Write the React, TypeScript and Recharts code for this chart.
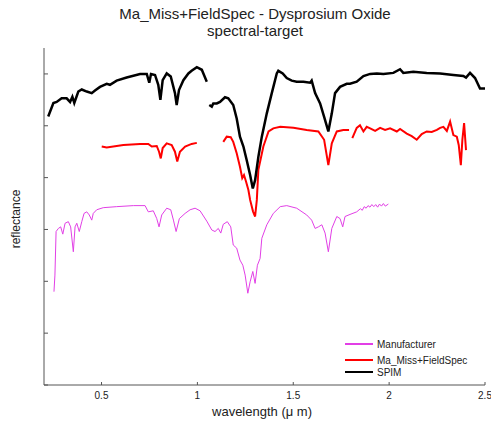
import * as React from 'react'
import { LineChart, Line, XAxis, YAxis } from 'recharts'

// [wavelength (µm), reflectance]
const SPIM_A: [number, number][] = [
  [0.222, 0.518], [0.249, 0.544], [0.266, 0.546], [0.292, 0.553], [0.318, 0.553],
  [0.336, 0.546], [0.348, 0.556], [0.358, 0.544], [0.379, 0.566], [0.397, 0.570],
  [0.423, 0.566], [0.449, 0.563], [0.466, 0.568], [0.492, 0.575], [0.527, 0.581],
  [0.544, 0.579], [0.579, 0.587], [0.631, 0.593], [0.701, 0.600], [0.736, 0.600],
  [0.749, 0.583], [0.758, 0.600], [0.779, 0.598], [0.796, 0.579], [0.807, 0.550],
  [0.819, 0.588], [0.840, 0.601], [0.861, 0.595], [0.883, 0.563], [0.892, 0.540],
  [0.904, 0.569], [0.927, 0.588], [0.953, 0.601], [0.970, 0.606], [0.997, 0.613],
  [1.023, 0.608], [1.049, 0.585],
]
const SPIM_B: [number, number][] = [
  [1.062, 0.540], [1.075, 0.537], [1.083, 0.543], [1.101, 0.543], [1.118, 0.546],
  [1.144, 0.555], [1.161, 0.553], [1.187, 0.540], [1.205, 0.514], [1.222, 0.479],
  [1.240, 0.460], [1.257, 0.434], [1.275, 0.405], [1.289, 0.379], [1.301, 0.395],
  [1.318, 0.440], [1.336, 0.479], [1.362, 0.524], [1.388, 0.563], [1.414, 0.601],
  [1.422, 0.606], [1.445, 0.601], [1.466, 0.592], [1.492, 0.587], [1.518, 0.585],
  [1.553, 0.585], [1.588, 0.583], [1.596, 0.587], [1.614, 0.563], [1.640, 0.543],
  [1.661, 0.517], [1.683, 0.489], [1.701, 0.524], [1.718, 0.563], [1.744, 0.575],
  [1.779, 0.581], [1.796, 0.581], [1.831, 0.585], [1.866, 0.596], [1.901, 0.600],
  [1.936, 0.601], [1.970, 0.600], [2.022, 0.602], [2.057, 0.609], [2.074, 0.602],
  [2.126, 0.604], [2.196, 0.602], [2.266, 0.601], [2.335, 0.598], [2.387, 0.596],
  [2.401, 0.593], [2.422, 0.602], [2.448, 0.592], [2.474, 0.572], [2.500, 0.572],
]

const FIELD_A: [number, number][] = [
  [0.501, 0.460], [0.527, 0.458], [0.614, 0.463], [0.701, 0.465], [0.744, 0.465],
  [0.762, 0.460], [0.788, 0.461], [0.800, 0.450], [0.809, 0.437], [0.819, 0.457],
  [0.840, 0.466], [0.866, 0.463], [0.883, 0.450], [0.895, 0.431], [0.909, 0.450],
  [0.936, 0.460], [0.970, 0.465], [0.997, 0.467],
]
const FIELD_B: [number, number][] = [
  [1.135, 0.469], [1.153, 0.479], [1.174, 0.478], [1.187, 0.469], [1.205, 0.447],
  [1.222, 0.421], [1.234, 0.399], [1.243, 0.405], [1.254, 0.392], [1.266, 0.376],
  [1.275, 0.357], [1.290, 0.335], [1.301, 0.325], [1.310, 0.357], [1.318, 0.415],
  [1.344, 0.460], [1.371, 0.489], [1.396, 0.495], [1.432, 0.498], [1.501, 0.496],
  [1.570, 0.492], [1.631, 0.489], [1.661, 0.473], [1.683, 0.424], [1.701, 0.466],
  [1.727, 0.489], [1.761, 0.492], [1.791, 0.492],
]
const FIELD_C: [number, number][] = [
  [1.808, 0.476], [1.831, 0.496], [1.848, 0.501], [1.866, 0.489], [1.883, 0.498],
  [1.901, 0.495], [1.927, 0.490], [1.953, 0.496], [1.979, 0.492], [2.005, 0.495],
  [2.040, 0.489], [2.057, 0.494], [2.092, 0.485], [2.118, 0.480], [2.144, 0.473],
  [2.170, 0.484], [2.196, 0.489], [2.222, 0.488], [2.249, 0.492], [2.266, 0.496],
  [2.283, 0.498], [2.301, 0.490], [2.318, 0.508], [2.335, 0.482], [2.353, 0.479],
  [2.363, 0.463], [2.374, 0.424], [2.382, 0.473], [2.391, 0.505], [2.401, 0.453],
]

const MANUFACTURER: [number, number][] = [
  [0.252, 0.180], [0.257, 0.212], [0.263, 0.296], [0.275, 0.302], [0.287, 0.305],
  [0.298, 0.291], [0.310, 0.312], [0.327, 0.315], [0.339, 0.305], [0.353, 0.257],
  [0.362, 0.305], [0.371, 0.312], [0.384, 0.296], [0.397, 0.315], [0.409, 0.331],
  [0.423, 0.334], [0.436, 0.328], [0.449, 0.318], [0.457, 0.331], [0.475, 0.338],
  [0.509, 0.342], [0.579, 0.344], [0.666, 0.346], [0.727, 0.346], [0.744, 0.334],
  [0.770, 0.336], [0.788, 0.321], [0.800, 0.305], [0.814, 0.328], [0.840, 0.341],
  [0.861, 0.338], [0.875, 0.318], [0.889, 0.296], [0.906, 0.321], [0.936, 0.331],
  [0.962, 0.338], [0.988, 0.341], [1.014, 0.336], [1.049, 0.316], [1.075, 0.299],
  [1.092, 0.296], [1.109, 0.302], [1.122, 0.293], [1.135, 0.310], [1.156, 0.315],
  [1.174, 0.305], [1.187, 0.270], [1.205, 0.264], [1.222, 0.241], [1.237, 0.231],
  [1.249, 0.212], [1.263, 0.177], [1.275, 0.199], [1.289, 0.219], [1.301, 0.196],
  [1.313, 0.231], [1.327, 0.244], [1.336, 0.283], [1.362, 0.309], [1.396, 0.331],
  [1.432, 0.344], [1.466, 0.346], [1.518, 0.341], [1.570, 0.328], [1.596, 0.318],
  [1.614, 0.302], [1.631, 0.305], [1.649, 0.309], [1.666, 0.293], [1.683, 0.257],
  [1.701, 0.302], [1.727, 0.325], [1.744, 0.321], [1.758, 0.305], [1.770, 0.325],
  [1.796, 0.329], [1.831, 0.334], [1.850, 0.340], [1.860, 0.337], [1.870, 0.344],
  [1.880, 0.341], [1.890, 0.346], [1.900, 0.343], [1.910, 0.348], [1.920, 0.344],
  [1.930, 0.348], [1.940, 0.343], [1.950, 0.349], [1.960, 0.345], [1.970, 0.350],
  [1.980, 0.345], [1.996, 0.349],
]

const X_TICKS = [0.5, 1, 1.5, 2, 2.5]
const Y_TICKS = [0, 0.1, 0.2, 0.3, 0.4, 0.5, 0.6]

const toRows = (pts: [number, number][]) => pts.map(([w, r]) => ({ w, r }))

const AXIS = '#555'
const FONT = '"Liberation Sans", Arial, sans-serif'

const series = [
  { key: 'man', data: MANUFACTURER, color: '#e23fe6', width: 1 },
  { key: 'fa', data: FIELD_A, color: '#ff0000', width: 2 },
  { key: 'fb', data: FIELD_B, color: '#ff0000', width: 2 },
  { key: 'fc', data: FIELD_C, color: '#ff0000', width: 2 },
  { key: 'sa', data: SPIM_A, color: '#000000', width: 2.5 },
  { key: 'sb', data: SPIM_B, color: '#000000', width: 2.5 },
]

const legendRows = [
  { label: 'Manufacturer', color: '#e23fe6', width: 1.5, top: 344 },
  { label: 'Ma_Miss+FieldSpec', color: '#ff0000', width: 2, top: 360 },
  { label: 'SPIM', color: '#000000', width: 2.5, top: 372 },
]

function XTick({ x, payload }: any) {
  const y = 385
  return (
    <g>
      <line x1={x} y1={y} x2={x} y2={y - 3} stroke={AXIS} />
      <text x={x} y={y + 14} textAnchor="middle" fontSize={10} fill="#222" fontFamily={FONT}>
        {payload.value}
      </text>
    </g>
  )
}

function YTick({ y }: any) {
  const x = 44
  return <line x1={x} y1={y} x2={x + 4} y2={y} stroke={AXIS} />
}

export default function App() {
  return (
    <div style={{ position: 'absolute', left: 0, top: 0, width: 491, height: 421, background: '#fff', fontFamily: FONT, color: '#222' }}>
      <div style={{ position: 'absolute', left: 0, width: 510, top: 5, textAlign: 'center', fontSize: 15, lineHeight: '17px' }}>
        Ma_Miss+FieldSpec - Dysprosium Oxide<br />spectral-target
      </div>
      <div style={{ position: 'absolute', left: 16, top: 219, transform: 'translate(-50%, -50%) rotate(-90deg)', fontSize: 12, whiteSpace: 'nowrap' }}>
        reflectance
      </div>
      <div style={{ position: 'absolute', left: 262, top: 411, transform: 'translate(-50%, -50%)', fontSize: 13, whiteSpace: 'nowrap' }}>
        wavelength (μ m)
      </div>
      <LineChart width={491} height={421} margin={{ top: 48, right: 6, bottom: 16, left: 4 }} style={{ position: 'absolute', left: 0, top: 0 }}>
        <XAxis
          type="number"
          dataKey="w"
          domain={[0.2, 2.5]}
          ticks={X_TICKS}
          allowDataOverflow
          height={20}
          tickSize={0}
          tickMargin={0}
          tickLine={false}
          tick={<XTick />}
          stroke={AXIS}
          interval={0}
        />
        <YAxis
          type="number"
          dataKey="r"
          domain={[0, 0.65]}
          ticks={Y_TICKS}
          allowDataOverflow
          width={40}
          tickSize={0}
          tickMargin={0}
          tickLine={false}
          tick={<YTick />}
          stroke={AXIS}
          interval={0}
        />
        {series.map(s => (
          <Line
            key={s.key}
            data={toRows(s.data)}
            dataKey="r"
            type="linear"
            stroke={s.color}
            strokeWidth={s.width}
            dot={false}
            isAnimationActive={false}
          />
        ))}
      </LineChart>
      {legendRows.map(row => (
        <div key={row.label} style={{ position: 'absolute', left: 345, top: row.top - 7, height: 14, display: 'flex', alignItems: 'center', fontSize: 10 }}>
          <span style={{ display: 'inline-block', width: 28, height: row.width, background: row.color, marginRight: 4 }} />
          {row.label}
        </div>
      ))}
    </div>
  )
}
